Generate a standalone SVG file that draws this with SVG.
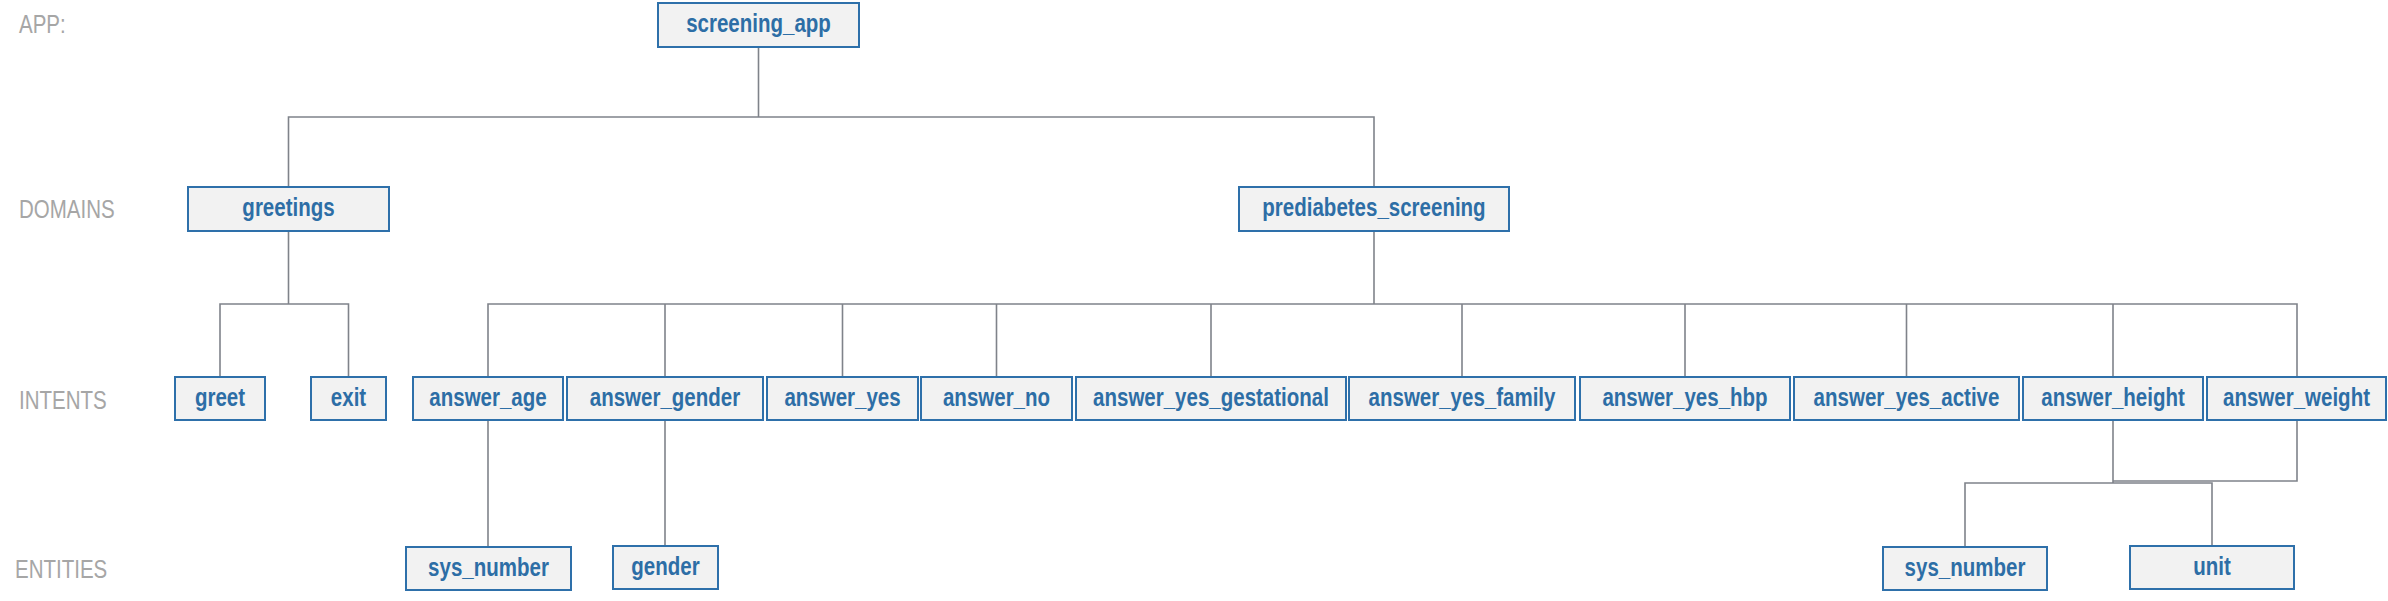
<svg xmlns="http://www.w3.org/2000/svg" width="2388" height="601" viewBox="0 0 2388 601">
<style>
.bg{fill:#ffffff}
.lbl{font-family:"Liberation Sans",Arial,sans-serif;font-size:25px;fill:#a6a6a6}
.box{fill:#f2f2f2;stroke:#2e70aa;stroke-width:2}
.nt{font-family:"Liberation Sans",Arial,sans-serif;font-size:25px;font-weight:bold;fill:#2d6ea6;text-anchor:middle}
.cn{fill:none;stroke:#7f838a;stroke-width:1.6}
</style>
<rect class="bg" x="0" y="0" width="2388" height="601"/>
<g id="level-labels">
<text class="lbl" transform="matrix(0.82 0 0 1 19 33)">APP:</text>
<text class="lbl" transform="matrix(0.82 0 0 1 19 218)">DOMAINS</text>
<text class="lbl" transform="matrix(0.82 0 0 1 19 409)">INTENTS</text>
<text class="lbl" transform="matrix(0.82 0 0 1 15 578)">ENTITIES</text>
</g>
<g id="connectors">
<path class="cn" d="M758.5,47 V117"/>
<path class="cn" d="M288.5,187 V117 H1374 V187"/>
<path class="cn" d="M288.5,231 V304"/>
<path class="cn" d="M220,377 V304 H348.5 V377"/>
<path class="cn" d="M1374,231 V304"/>
<path class="cn" d="M488,377 V304 H2297 V377"/>
<path class="cn" d="M665,304 V377 M842.5,304 V377 M996.5,304 V377 M1211,304 V377 M1462,304 V377 M1685,304 V377 M1906.5,304 V377 M2113,304 V377"/>
<path class="cn" d="M488,420 V547"/>
<path class="cn" d="M665,420 V546"/>
<path class="cn" d="M2113,420 V483"/>
<path class="cn" d="M1965,547 V483 H2212 V546"/>
<path class="cn" d="M2297,420 V481 H2113"/>
</g>
<g id="screening_app"><rect class="box" x="658" y="3" width="201" height="44"/><text class="nt" transform="matrix(0.82 0 0 1 758.5 32)">screening_app</text></g>
<g id="greetings"><rect class="box" x="188" y="187" width="201" height="44"/><text class="nt" transform="matrix(0.82 0 0 1 288.5 216)">greetings</text></g>
<g id="prediabetes_screening"><rect class="box" x="1239" y="187" width="270" height="44"/><text class="nt" transform="matrix(0.82 0 0 1 1374 216)">prediabetes_screening</text></g>
<g id="greet"><rect class="box" x="175" y="377" width="90" height="43"/><text class="nt" transform="matrix(0.82 0 0 1 220 405.5)">greet</text></g>
<g id="exit"><rect class="box" x="311" y="377" width="75" height="43"/><text class="nt" transform="matrix(0.82 0 0 1 348.5 405.5)">exit</text></g>
<g id="answer_age"><rect class="box" x="413" y="377" width="150" height="43"/><text class="nt" transform="matrix(0.82 0 0 1 488 405.5)">answer_age</text></g>
<g id="answer_gender"><rect class="box" x="567" y="377" width="196" height="43"/><text class="nt" transform="matrix(0.82 0 0 1 665 405.5)">answer_gender</text></g>
<g id="answer_yes"><rect class="box" x="767" y="377" width="151" height="43"/><text class="nt" transform="matrix(0.82 0 0 1 842.5 405.5)">answer_yes</text></g>
<g id="answer_no"><rect class="box" x="921" y="377" width="151" height="43"/><text class="nt" transform="matrix(0.82 0 0 1 996.5 405.5)">answer_no</text></g>
<g id="answer_yes_gestational"><rect class="box" x="1076" y="377" width="270" height="43"/><text class="nt" transform="matrix(0.82 0 0 1 1211 405.5)">answer_yes_gestational</text></g>
<g id="answer_yes_family"><rect class="box" x="1349" y="377" width="226" height="43"/><text class="nt" transform="matrix(0.82 0 0 1 1462 405.5)">answer_yes_family</text></g>
<g id="answer_yes_hbp"><rect class="box" x="1580" y="377" width="210" height="43"/><text class="nt" transform="matrix(0.82 0 0 1 1685 405.5)">answer_yes_hbp</text></g>
<g id="answer_yes_active"><rect class="box" x="1794" y="377" width="225" height="43"/><text class="nt" transform="matrix(0.82 0 0 1 1906.5 405.5)">answer_yes_active</text></g>
<g id="answer_height"><rect class="box" x="2023" y="377" width="180" height="43"/><text class="nt" transform="matrix(0.82 0 0 1 2113 405.5)">answer_height</text></g>
<g id="answer_weight"><rect class="box" x="2207" y="377" width="179" height="43"/><text class="nt" transform="matrix(0.82 0 0 1 2296.5 405.5)">answer_weight</text></g>
<g id="sys_number_age"><rect class="box" x="406" y="547" width="165" height="43"/><text class="nt" transform="matrix(0.82 0 0 1 488.5 575.5)">sys_number</text></g>
<g id="gender"><rect class="box" x="613" y="546" width="105" height="43"/><text class="nt" transform="matrix(0.82 0 0 1 665.5 574.5)">gender</text></g>
<g id="sys_number_hw"><rect class="box" x="1883" y="547" width="164" height="43"/><text class="nt" transform="matrix(0.82 0 0 1 1965 575.5)">sys_number</text></g>
<g id="unit"><rect class="box" x="2130" y="546" width="164" height="43"/><text class="nt" transform="matrix(0.82 0 0 1 2212 574.5)">unit</text></g>
</svg>
